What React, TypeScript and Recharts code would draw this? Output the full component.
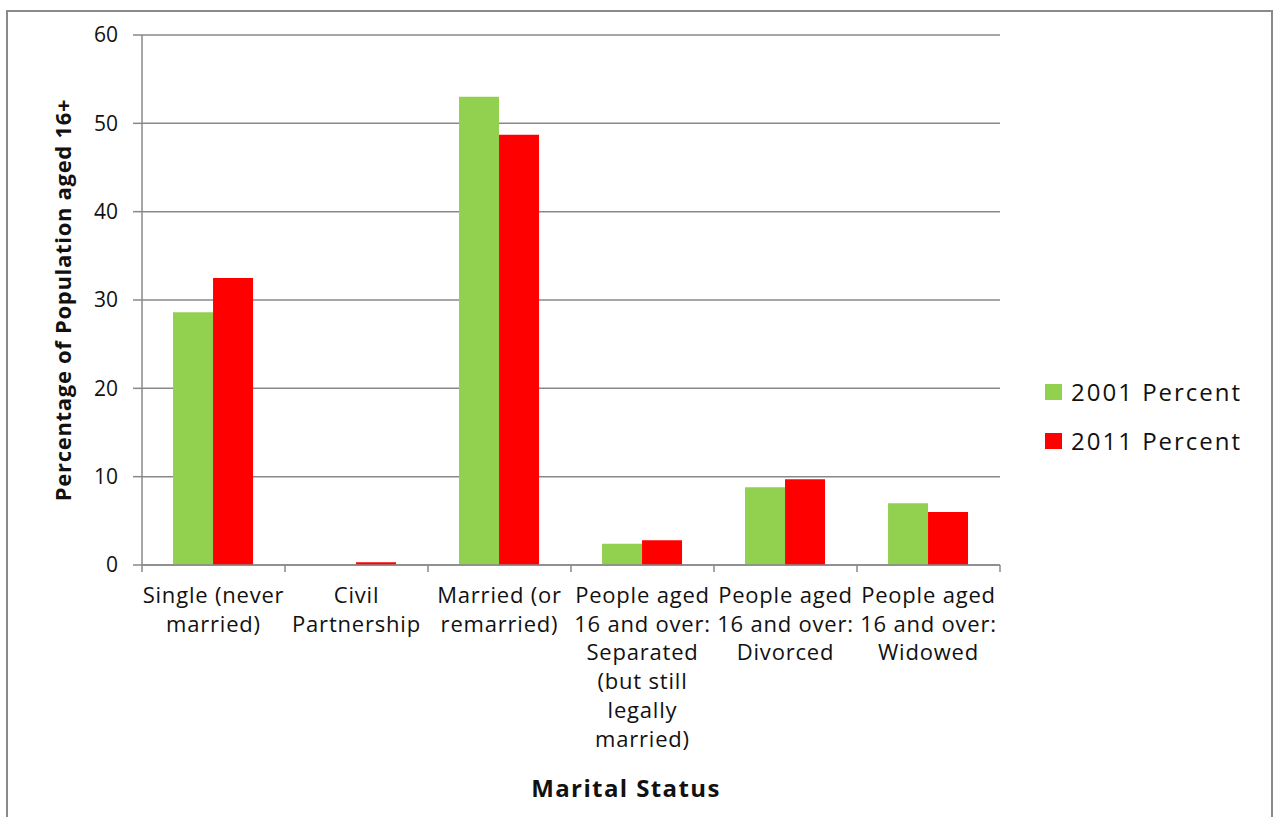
import { BarChart, Bar, XAxis, YAxis, CartesianGrid } from "recharts";

const categoryLines = [
  ["Single (never", "married)"],
  ["Civil", "Partnership"],
  ["Married (or", "remarried)"],
  ["People aged", "16 and over:", "Separated", "(but still", "legally", "married)"],
  ["People aged", "16 and over:", "Divorced"],
  ["People aged", "16 and over:", "Widowed"],
];
const percent2001 = [28.6, 0, 53.0, 2.4, 8.8, 7.0];
const percent2011 = [32.5, 0.3, 48.7, 2.8, 9.7, 6.0];
const yTicks = [0, 10, 20, 30, 40, 50, 60];
const seriesNames = ["2001 Percent", "2011 Percent"];

const GREEN = "#92D050";
const RED = "#FF0000";
const GRID = "#888888";
const FONT = "'Open Sans', sans-serif";

const data = categoryLines.map((lines, i) => ({
  name: lines.join(" "),
  lines,
  y2001: percent2001[i],
  y2011: percent2011[i],
}));

const CHART_W = 1263;
const CHART_H = 805;
const MARGIN = { top: 23, right: 271, bottom: 0, left: 0 };
const Y_AXIS_W = 134;
const BAND = (CHART_W - MARGIN.left - MARGIN.right - Y_AXIS_W) / data.length;

function CategoryTick({ x, y, payload, index }: any) {
  const lines: string[] = data[index]?.lines ?? [String(payload.value)];
  const left = x - BAND / 2;
  return (
    <g>
      <line x1={left} y1={y} x2={left} y2={y + 7} stroke={GRID} strokeWidth={1.5} />
      {index === data.length - 1 && (
        <line x1={x + BAND / 2} y1={y} x2={x + BAND / 2} y2={y + 7} stroke={GRID} strokeWidth={1.5} />
      )}
      <text x={x} y={y + 38} textAnchor="middle" fill="#111" fontSize={22} letterSpacing={0.8} fontFamily={FONT}>
        {lines.map((l, i) => (
          <tspan key={i} x={x} dy={i === 0 ? 0 : 28.7}>
            {l}
          </tspan>
        ))}
      </text>
    </g>
  );
}

function AxisTitle({ viewBox }: any) {
  const cx = viewBox.x + viewBox.width / 2 + 55;
  return (
    <text
      x={cx}
      y={viewBox.y + 232}
      textAnchor="middle"
      fontSize={24}
      letterSpacing={1.4}
      fontWeight={700}
      fontFamily={FONT}
      fill="#111"
    >
      Marital Status
    </text>
  );
}

function LegendBox() {
  const colors = [GREEN, RED];
  return (
    <div style={{ position: "absolute", left: 1037, top: 355 }}>
      {seriesNames.map((label, i) => (
        <div key={label} style={{ display: "flex", alignItems: "center", height: 49 }}>
          <span style={{ width: 17, height: 16, background: colors[i], marginRight: 9 }} />
          <span style={{ fontSize: 24, fontFamily: FONT, color: "#111", letterSpacing: 2 }}>{label}</span>
        </div>
      ))}
    </div>
  );
}

export default function App() {
  return (
    <div
      style={{
        position: "absolute",
        left: 6,
        top: 10,
        width: CHART_W,
        height: CHART_H,
        borderLeft: "2px solid #8a8a8a",
        borderRight: "2px solid #8a8a8a",
        borderTop: "2px solid #8a8a8a",
        background: "#fff",
        overflow: "hidden",
      }}
    >
      <BarChart width={CHART_W} height={CHART_H} data={data} margin={MARGIN} barCategoryGap="21.7%" barGap={0}>
        <CartesianGrid vertical={false} stroke={GRID} strokeWidth={1.5} />
        <XAxis
          dataKey="name"
          interval={0}
          height={252}
          tickSize={0}
          tickMargin={0}
          tickLine={false}
          axisLine={{ stroke: GRID, strokeWidth: 1.5 }}
          tick={<CategoryTick />}
          label={<AxisTitle />}
        />
        <YAxis
          width={Y_AXIS_W}
          domain={[0, 60]}
          ticks={yTicks}
          interval={0}
          tickSize={9}
          tickMargin={15}
          axisLine={{ stroke: GRID, strokeWidth: 1.5 }}
          tickLine={{ stroke: GRID, strokeWidth: 1.5 }}
          tick={{ fill: "#111", fontSize: 21, fontFamily: FONT }}
          label={{
            value: "Percentage of Population aged 16+",
            angle: -90,
            position: "insideLeft",
            offset: 55,
            style: {
              textAnchor: "middle",
              fontSize: 22,
              letterSpacing: 0.7,
              fontWeight: 700,
              fontFamily: FONT,
              fill: "#111",
            },
          }}
        />
        <Bar dataKey="y2001" name={seriesNames[0]} fill={GREEN} isAnimationActive={false} />
        <Bar dataKey="y2011" name={seriesNames[1]} fill={RED} isAnimationActive={false} />
      </BarChart>
      <LegendBox />
    </div>
  );
}
